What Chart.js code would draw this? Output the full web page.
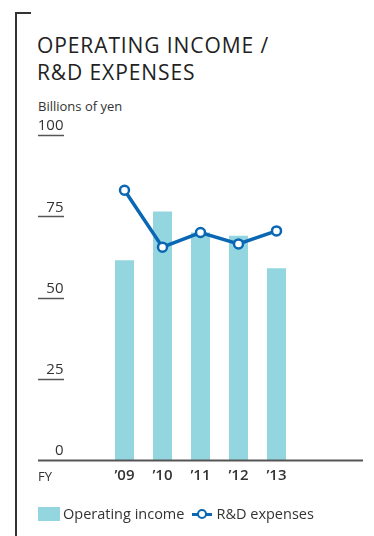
<!DOCTYPE html>
<html>
<head>
<meta charset="utf-8">
<script src="https://cdn.jsdelivr.net/npm/chart.js@4"></script>
<style>
    html, body { margin: 0; padding: 0; background: #fff; }
    body { width: 374px; height: 536px; position: relative; overflow: hidden; font-family: "Open Sans", sans-serif; color: #222; }
    #frame-v { position: absolute; left: 15px; top: 12px; width: 2px; height: 530px; background: #333; }
    #frame-h { position: absolute; left: 15px; top: 12px; width: 16px; height: 2px; background: #333; }
    #title { position: absolute; left: 37px; top: 32px; font-size: 21px; line-height: 27px; letter-spacing: 0.9px; }
    #unit { position: absolute; left: 38px; top: 97px; font-size: 13px; color: #333; }
    #fy { position: absolute; left: 38px; top: 467px; font-size: 13px; color: #333; }
    #chart-wrap { position: absolute; left: 0; top: 0; width: 374px; height: 536px; }
    #legend { position: absolute; left: 38px; top: 504px; font-size: 14.5px; color: #333; display: flex; align-items: center; }
    .sw-bar { width: 22px; height: 14px; background: #93d6df; margin-right: 3px; }
    .sw-line { position: relative; width: 20px; height: 14px; margin-left: 8px; margin-right: 4px; }
    .sw-line::before { content: ""; position: absolute; left: 0; right: 0; top: 6px; height: 3px; background: #0a67b3; }
    .sw-line::after { content: ""; position: absolute; left: 5px; top: 2px; width: 6px; height: 6px; border: 2.5px solid #0a67b3; border-radius: 50%; background: #fff; }
</style>
</head>
<body>
<div id="frame-v"></div>
<div id="frame-h"></div>
<div id="title">OPERATING INCOME /<br>R&amp;D EXPENSES</div>
<div id="unit">Billions of yen</div>
<div id="chart-wrap"><canvas id="chart"></canvas></div>
<div id="fy">FY</div>
<div id="legend">
    <span class="sw-bar"></span><span>Operating income</span>
    <span class="sw-line"></span><span>R&amp;D expenses</span>
</div>
<script>
// data
const years = ['\u201909', '\u201910', '\u201911', '\u201912', '\u201913'];
const operatingIncome = [61.5, 76.5, 70, 69, 59];
const rdExpenses = [83, 65.5, 70, 66.5, 70.5];
const yTicks = [0, 25, 50, 75, 100];

const barColor = '#93d6df';
const lineColor = '#0a67b3';

// short rules under the y labels plus the long base line
const axisRules = {
    id: 'axisRules',
    afterDatasetsDraw(chart) {
        const ctx = chart.ctx;
        const y = chart.scales.y;
        ctx.save();
        ctx.strokeStyle = '#555';
        ctx.lineWidth = 1.5;
        yTicks.forEach(v => {
            if (v === 0) return;
            const py = Math.round(y.getPixelForValue(v)) + 0.5;
            ctx.beginPath();
            ctx.moveTo(38, py);
            ctx.lineTo(64, py);
            ctx.stroke();
        });
        const base = Math.round(y.getPixelForValue(0)) + 0.5;
        ctx.lineWidth = 2;
        ctx.beginPath();
        ctx.moveTo(38, base);
        ctx.lineTo(363, base);
        ctx.stroke();
        ctx.restore();
    }
};

new Chart(document.getElementById('chart'), {
    type: 'bar',
    data: {
        labels: years,
        datasets: [
            {
                type: 'line',
                label: 'R&D expenses',
                data: rdExpenses,
                borderColor: lineColor,
                borderWidth: 3.5,
                pointRadius: 4.5,
                pointBorderWidth: 2.5,
                pointBackgroundColor: '#fff',
                pointBorderColor: lineColor,
                tension: 0,
                order: 0
            },
            {
                label: 'Operating income',
                data: operatingIncome,
                backgroundColor: barColor,
                barPercentage: 0.5,
                categoryPercentage: 1,
                order: 1
            }
        ]
    },
    options: {
        responsive: true,
        maintainAspectRatio: false,
        animation: false,
        layout: { padding: { left: 38, right: 78.5, top: 135, bottom: 0 } },
        plugins: {
            legend: { display: false },
            tooltip: { enabled: false }
        },
        scales: {
            x: {
                offset: true,
                grid: { display: false, drawTicks: false },
                border: { display: false },
                ticks: {
                    padding: 7,
                    color: '#333',
                    font: { family: 'Open Sans', size: 15, weight: '600' }
                },
                afterFit: s => { s.height = 76; }
            },
            y: {
                min: 0,
                max: 100,
                afterBuildTicks: s => { s.ticks = yTicks.map(v => ({ value: v })); },
                grid: { display: false, drawTicks: false },
                border: { display: false },
                ticks: {
                    padding: 42,
                    labelOffset: -9,
                    color: '#333',
                    font: { family: 'Open Sans', size: 15 }
                },
                afterFit: s => { s.width = 67.5; }
            }
        }
    },
    plugins: [axisRules]
});
</script>
</body>
</html>
